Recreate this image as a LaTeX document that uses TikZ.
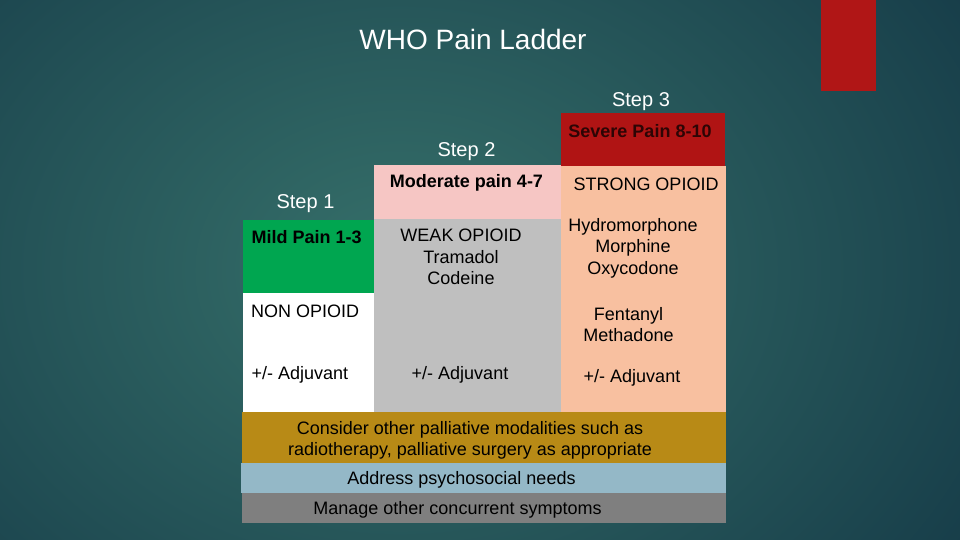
\documentclass[tikz,border=0pt]{standalone}
\usepackage{fontspec}
\setmainfont{Liberation Sans}
\begin{document}
\begin{tikzpicture}[x=1pt,y=-1pt,
  txt/.style={inner sep=0pt, yshift=-2pt, font=\fontsize{18}{21.5}\selectfont, text=black},
  btxt/.style={txt, font=\fontsize{18}{21.5}\selectfont\bfseries},
  steplbl/.style={inner sep=0pt, yshift=-2.5pt, font=\fontsize{20}{24}\selectfont, text=white}]
\definecolor{bgin}{RGB}{54,112,106}
\definecolor{bgout}{RGB}{16,50,66}
\definecolor{tabred}{RGB}{176,22,22}
\definecolor{sevred}{RGB}{176,20,20}
\definecolor{modpink}{RGB}{246,198,196}
\definecolor{mildgreen}{RGB}{0,166,80}
\definecolor{weakgray}{RGB}{191,191,191}
\definecolor{peach}{RGB}{248,192,160}
\definecolor{gold}{RGB}{184,138,22}
\definecolor{lblue}{RGB}{148,184,199}
\definecolor{dgray}{RGB}{127,127,127}
\definecolor{sevtext}{RGB}{45,5,5}
\useasboundingbox (0,0) rectangle (960,540);
\begin{scope}
\clip (0,0) rectangle (960,540);
\fill[bgout] (0,0) rectangle (960,540);
\shade[inner color=bgin, outer color=bgout] (400,270) ellipse (820 and 640);
\end{scope}
% red tab
\fill[tabred] (821,0) rectangle (876,91);
% ladder cells
\fill[sevred] (561,113) rectangle (725,166);
\fill[modpink] (374,165) rectangle (561,219);
\fill[mildgreen] (243,220) rectangle (374,293);
\fill[white] (243,293) rectangle (374,412);
\fill[weakgray] (374,219) rectangle (561,412);
\fill[peach] (561,166) rectangle (726,412);
\fill[gold] (242,412) rectangle (726,463);
\fill[lblue] (241,463) rectangle (726,493);
\fill[dgray] (242,493) rectangle (726,523);
% title
\node[inner sep=0pt, yshift=-2pt, font=\fontsize{28}{32}\selectfont, text=white] (title) at (473,37) {WHO Pain Ladder};
\node[steplbl] (s3) at (641,99) {Step 3};
\node[steplbl] (s2) at (466.5,149) {Step 2};
\node[steplbl] (s1) at (305.5,201) {Step 1};
% headers
\node[btxt, text=sevtext] (severe) at (640,129) {Severe Pain 8-10};
\node[btxt] (moderate) at (466.5,181) {Moderate pain 4-7};
\node[btxt, anchor=west] (mild) at (251.5,235) {Mild Pain 1-3};
% contents
\node[txt] (strong) at (646,182) {STRONG OPIOID};
\node[txt, align=center] (weak) at (461,255) {WEAK OPIOID\\Tramadol\\Codeine};
\node[txt, align=center] (hydro) at (633,246) {Hydromorphone\\Morphine\\Oxycodone};
\node[txt, anchor=west] (non) at (251,309) {NON OPIOID};
\node[txt, align=center] (fent) at (628.5,322.5) {Fentanyl\\Methadone};
\node[txt, anchor=west] (adj1) at (251.5,373) {+/- Adjuvant};
\node[txt] (adj2) at (460,373) {+/- Adjuvant};
\node[txt] (adj3) at (632,376) {+/- Adjuvant};
% bands
\node[txt, align=center] (consider) at (470,438.5) {Consider other palliative modalities such as\\radiotherapy, palliative surgery as appropriate};
\node[txt] (address) at (461.5,478) {Address psychosocial needs};
\node[txt] (manage) at (457.5,507.5) {Manage other concurrent symptoms};
\end{tikzpicture}
\end{document}
